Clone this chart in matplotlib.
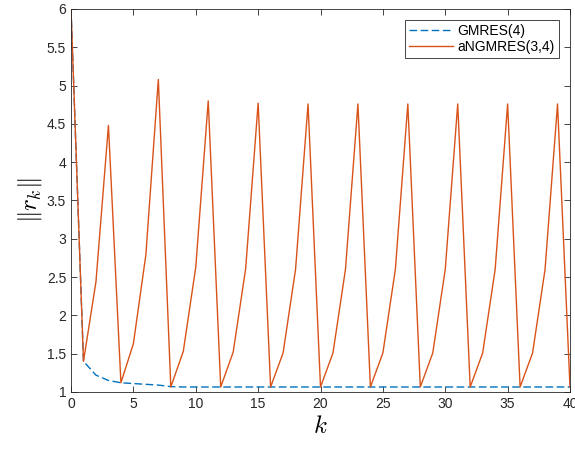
import matplotlib
matplotlib.use("Agg")
import matplotlib.pyplot as plt

plt.rcParams['font.family'] = ['Liberation Sans', 'DejaVu Sans']
plt.rcParams['mathtext.fontset'] = 'cm'

# iteration index
k = list(range(41))

# GMRES(4) residual norm
gmres = [6.0, 1.40, 1.22, 1.15, 1.12, 1.11, 1.10, 1.09, 1.07] + [1.065] * 32

# aNGMRES(3,4) residual norm
angmres = [6.0, 1.40, 2.44, 4.48,
           1.12, 1.63, 2.79, 5.08,
           1.065, 1.53, 2.63, 4.80,
           1.065, 1.52, 2.61, 4.77,
           1.065, 1.51, 2.60, 4.76,
           1.065, 1.51, 2.60, 4.76,
           1.065, 1.51, 2.60, 4.76,
           1.065, 1.51, 2.60, 4.76,
           1.065, 1.51, 2.60, 4.76,
           1.065, 1.51, 2.60, 4.76,
           1.065]

fig = plt.figure(figsize=(5.75, 4.49), dpi=100)
ax = fig.add_axes([0.1235, 0.1270, 0.8678, 0.8530])

ax.plot(k, gmres, '--', color='#0072BD', lw=1.0, dashes=(5.5, 2.5), label='GMRES(4)')
ax.plot(k, angmres, '-', color='#D95319', lw=1.0, label='aNGMRES(3,4)')

ax.set_xlim(0, 40)
ax.set_ylim(1, 6)
ax.set_xticks(range(0, 41, 5))
ax.set_yticks([1, 1.5, 2, 2.5, 3, 3.5, 4, 4.5, 5, 5.5, 6])
ax.set_yticklabels(['1', '1.5', '2', '2.5', '3', '3.5', '4', '4.5', '5', '5.5', '6'])
ax.tick_params(direction='in', top=True, right=True, labelsize=10,
               length=4, width=0.6, colors='#262626')
for s in ax.spines.values():
    s.set_linewidth(0.6)
    s.set_color('#262626')

ax.set_xlabel('$k$', fontsize=18, labelpad=2)
ax.set_ylabel(r'$\|r_k\|$', fontsize=18, labelpad=2)

leg = ax.legend(loc='upper right', fontsize=10, fancybox=False, framealpha=1,
                edgecolor='#262626', borderpad=0.3, handlelength=3.2,
                handletextpad=0.3, labelspacing=0.1, borderaxespad=0.8)
leg.get_frame().set_linewidth(0.6)

fig.savefig('out.png', dpi=100)
